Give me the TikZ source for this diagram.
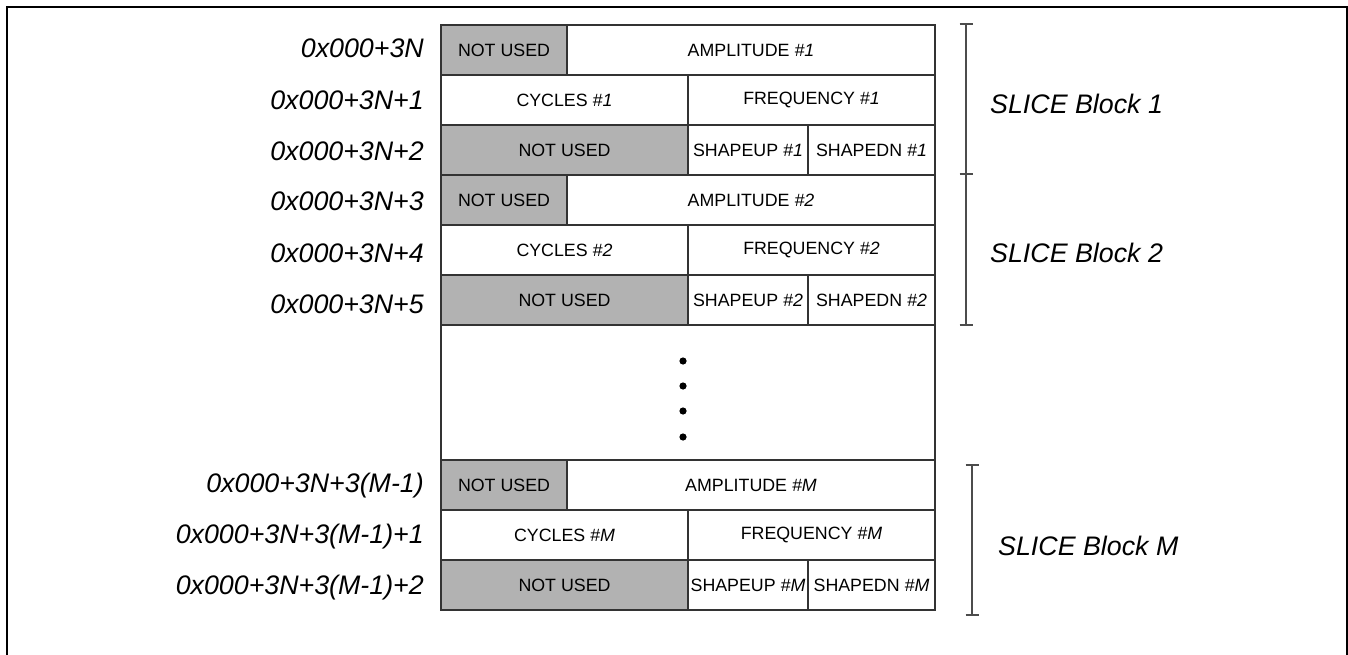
\documentclass[tikz,border=0pt]{standalone}
\usepackage{fontspec}
\setmainfont{Liberation Sans}
\begin{document}
\begin{tikzpicture}[x=1pt,y=-1pt,
  cell/.style={draw=black!80, line width=1.2pt, rectangle, inner sep=0pt, outer sep=0pt,
    font=\fontsize{17.8}{20}\selectfont, minimum height=50pt},
  unused/.style={cell, fill=black!30},
  addr/.style={anchor=east, inner sep=0pt, font=\fontsize{26.8}{30}\selectfont\itshape},
  blocklabel/.style={anchor=west, inner sep=0pt, font=\fontsize{26.8}{30}\selectfont\itshape},
  bracket/.style={draw=black!70, line width=1.3pt},
  dotmark/.style={fill=black}
]
\useasboundingbox (0,0) rectangle (1348,655);
\fill[white] (0,0) rectangle (1348,655);
% outer frame
\draw[line width=2.4pt] (7,660) -- (7,7) -- (1347,7) -- (1347,660);

% helper: rows
% Block 1
\node[unused, minimum width=126pt] (a1n) at (504,50) {NOT USED};
\node[cell, minimum width=368pt] (a1) at (751,50) {AMPLITUDE \textit{\#1}};
\node[cell, minimum width=247pt] (c1) at (564.5,100) {CYCLES \textit{\#1}};
\node[cell, minimum width=247pt] (f1) at (811.5,100) {FREQUENCY \textit{\#1}};
\node[unused, minimum width=247pt] (s1n) at (564.5,150) {NOT USED};
\node[cell, minimum width=120pt] (su1) at (748,150) {SHAPEUP \textit{\#1}};
\node[cell, minimum width=127pt] (sd1) at (871.5,150) {SHAPEDN \textit{\#1}};
% Block 2
\node[unused, minimum width=126pt] (a2n) at (504,200) {NOT USED};
\node[cell, minimum width=368pt] (a2) at (751,200) {AMPLITUDE \textit{\#2}};
\node[cell, minimum width=247pt] (c2) at (564.5,250) {CYCLES \textit{\#2}};
\node[cell, minimum width=247pt] (f2) at (811.5,250) {FREQUENCY \textit{\#2}};
\node[unused, minimum width=247pt] (s2n) at (564.5,300) {NOT USED};
\node[cell, minimum width=120pt] (su2) at (748,300) {SHAPEUP \textit{\#2}};
\node[cell, minimum width=127pt] (sd2) at (871.5,300) {SHAPEDN \textit{\#2}};
% gap
\node[cell, minimum width=494pt, minimum height=135pt] (gap) at (688,392.5) {};
\foreach \yy in {361,386,411,437} \fill[dotmark] (683,\yy) circle (3.6pt);
% Block M
\node[unused, minimum width=126pt] (aMn) at (504,485) {\raisebox{-2pt}{NOT USED}};
\node[cell, minimum width=368pt] (aM) at (751,485) {AMPLITUDE \textit{\#M}};
\node[cell, minimum width=247pt] (cM) at (564.5,535) {CYCLES \textit{\#M}};
\node[cell, minimum width=247pt] (fM) at (811.5,535) {FREQUENCY \textit{\#M}};
\node[unused, minimum width=247pt] (sMn) at (564.5,585) {NOT USED};
\node[cell, minimum width=120pt] (suM) at (748,585) {SHAPEUP \textit{\#M}};
\node[cell, minimum width=127pt] (sdM) at (871.5,585) {SHAPEDN \textit{\#M}};

% addresses
\node[addr] (l1) at (424,48) {0x000+3N};
\node[addr] (l2) at (424,100) {0x000+3N+1};
\node[addr] (l3) at (424,151) {0x000+3N+2};
\node[addr] (l4) at (424,201) {0x000+3N+3};
\node[addr] (l5) at (424,253) {0x000+3N+4};
\node[addr] (l6) at (424,304) {0x000+3N+5};
\node[addr] (l7) at (424,486) {0x000+3N+3(M-1)};
\node[addr] (l8) at (424,537) {0x000+3N+3(M-1)+1};
\node[addr] (l9) at (424,588) {0x000+3N+3(M-1)+2};

% brackets
\coordinate (b1t) at (966,24);
\coordinate (b1m) at (966,174);
\coordinate (b1b) at (966,325);
\draw[bracket] (b1t) -- (b1b);
\foreach \c in {b1t,b1m,b1b} \draw[bracket] ([xshift=-6.5pt]\c) -- ([xshift=6.5pt]\c);
\coordinate (bMt) at (972,465);
\coordinate (bMb) at (972,615);
\draw[bracket] (bMt) -- (bMb);
\foreach \c in {bMt,bMb} \draw[bracket] ([xshift=-6.5pt]\c) -- ([xshift=6.5pt]\c);

\node[blocklabel] (sb1) at (990,104) {SLICE Block 1};
\node[blocklabel] (sb2) at (990,253) {SLICE Block 2};
\node[blocklabel] (sbM) at (998,546) {SLICE Block M};
\end{tikzpicture}
\end{document}
